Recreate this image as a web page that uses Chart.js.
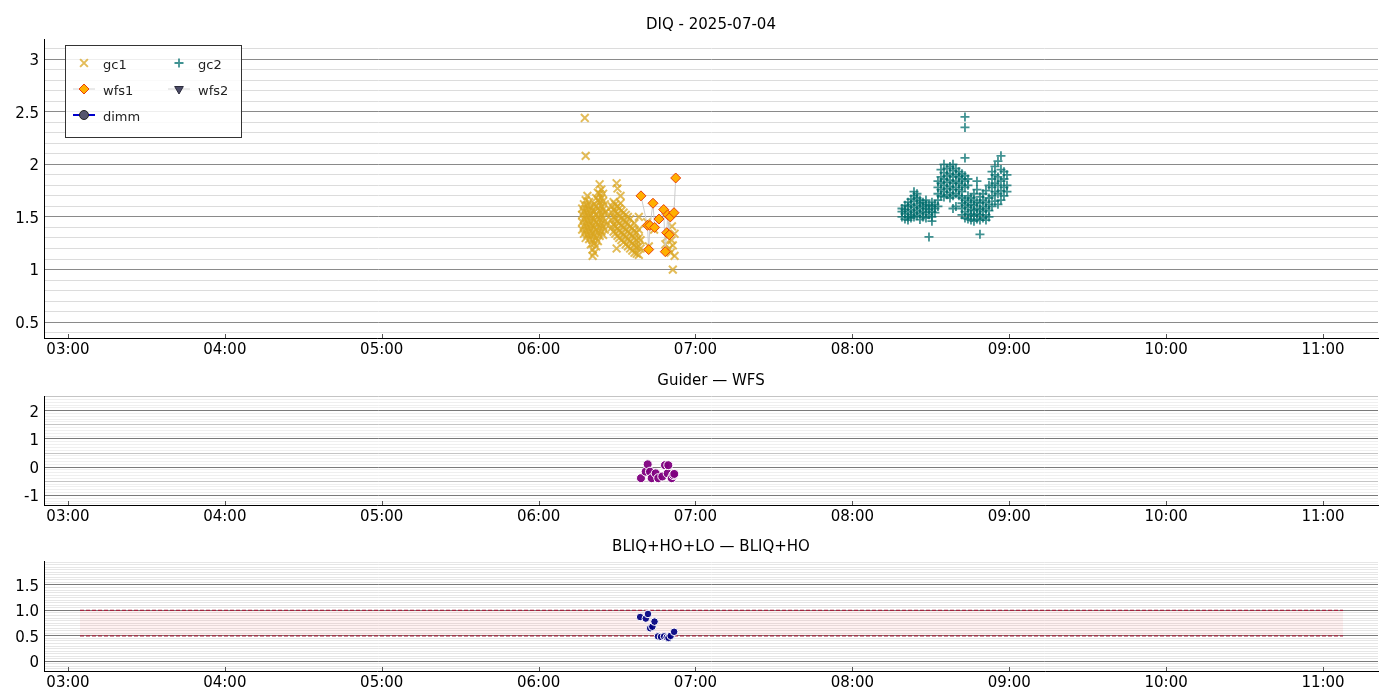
<!DOCTYPE html>
<html>
<head>
<meta charset="utf-8">
<script src="https://cdn.jsdelivr.net/npm/chart.js@4.4.1/dist/chart.umd.min.js"></script>
<style>
html, body { margin: 0; padding: 0; background: #fff; width: 1400px; height: 700px; overflow: hidden; }
.panel { position: absolute; left: 0; width: 1400px; }
</style>
</head>
<body>
<div class="panel" style="top:0;height:370px"><canvas id="diq"></canvas></div>
<div class="panel" style="top:365px;height:172px"><canvas id="gw"></canvas></div>
<div class="panel" style="top:533px;height:167px"><canvas id="bliq"></canvas></div>
<script>
// --- axes ---
const axisStart = '02:50:50';
const axisEnd = '11:21:02';
const hourTicks = [3, 4, 5, 6, 7, 8, 9, 10, 11];
const hourLabels = ['03:00', '04:00', '05:00', '06:00', '07:00', '08:00', '09:00', '10:00', '11:00'];

const diqTickValues = [0.5, 1, 1.5, 2, 2.5, 3];
const diqTickLabels = ['0.5', '1', '1.5', '2', '2.5', '3'];
const gwTickValues = [-1, 0, 1, 2];
const gwTickLabels = ['-1', '0', '1', '2'];
const bliqTickValues = [0, 0.5, 1, 1.5];
const bliqTickLabels = ['0', '0.5', '1.0', '1.5'];

// --- DIQ series, grouped by sample time: [time, [values]] ---
const gc1 = [
  ['06:16:40', [1.38, 1.45, 1.52, 1.58]],
  ['06:17:20', [1.34, 1.41, 1.48, 1.55, 1.62]],
  ['06:17:40', [2.44]],
  ['06:18:00', [2.08, 1.30, 1.37, 1.44, 1.51, 1.58, 1.66]],
  ['06:18:40', [1.33, 1.40, 1.47, 1.54, 1.61, 1.70]],
  ['06:19:20', [1.29, 1.36, 1.43, 1.50, 1.57, 1.64]],
  ['06:20:00', [1.24, 1.32, 1.39, 1.46, 1.53, 1.60]],
  ['06:20:40', [1.13, 1.19, 1.28, 1.35, 1.42, 1.49, 1.56]],
  ['06:21:20', [1.16, 1.25, 1.33, 1.40, 1.47, 1.55, 1.62]],
  ['06:22:00', [1.22, 1.30, 1.38, 1.45, 1.52, 1.60, 1.68]],
  ['06:22:40', [1.27, 1.35, 1.43, 1.50, 1.58, 1.66, 1.73]],
  ['06:23:20', [1.32, 1.40, 1.48, 1.56, 1.64, 1.72, 1.81]],
  ['06:24:00', [1.36, 1.44, 1.52, 1.60, 1.68, 1.76]],
  ['06:24:40', [1.33, 1.41, 1.49, 1.57, 1.65, 1.72]],
  ['06:25:20', [1.38, 1.46, 1.54, 1.62]],
  ['06:25:50', [1.43, 1.55]],
  ['06:28:00', [1.40, 1.47, 1.54, 1.60]],
  ['06:28:40', [1.36, 1.43, 1.50, 1.57, 1.64]],
  ['06:29:20', [1.34, 1.41, 1.48, 1.55, 1.62]],
  ['06:29:50', [1.82, 1.20]],
  ['06:30:10', [1.32, 1.39, 1.46, 1.53, 1.60, 1.77]],
  ['06:30:50', [1.30, 1.37, 1.44, 1.51, 1.58]],
  ['06:31:20', [1.70, 1.63]],
  ['06:31:40', [1.28, 1.35, 1.42, 1.49, 1.56]],
  ['06:32:30', [1.26, 1.33, 1.40, 1.47, 1.54]],
  ['06:33:20', [1.24, 1.31, 1.38, 1.45, 1.52]],
  ['06:34:10', [1.22, 1.29, 1.36, 1.43, 1.50]],
  ['06:35:00', [1.20, 1.27, 1.34, 1.41, 1.48]],
  ['06:35:50', [1.18, 1.25, 1.32, 1.39]],
  ['06:36:40', [1.16, 1.23, 1.30, 1.37, 1.44]],
  ['06:37:30', [1.15, 1.21, 1.28, 1.35]],
  ['06:38:20', [1.14, 1.22, 1.30, 1.38, 1.50]],
  ['06:39:00', [1.20, 1.28]],
  ['06:41:30', [1.45]],
  ['06:42:10', [1.22]],
  ['06:44:10', [1.38]],
  ['06:48:30', [1.24]],
  ['06:49:10', [1.31]],
  ['06:49:50', [1.20]],
  ['06:50:30', [1.16]],
  ['06:50:50', [1.28]],
  ['06:51:00', [1.41]],
  ['06:51:20', [1.00, 1.23]],
  ['06:52:00', [1.34, 1.13]]
];

const gc2 = [
  ['08:18:58', [1.50, 1.55, 1.58]],
  ['08:20:07', [1.48, 1.53, 1.57, 1.61]],
  ['08:21:16', [1.47, 1.50, 1.55, 1.60, 1.64]],
  ['08:22:25', [1.49, 1.52, 1.57, 1.62, 1.67]],
  ['08:23:34', [1.50, 1.54, 1.59, 1.65, 1.70, 1.74]],
  ['08:24:43', [1.51, 1.56, 1.61, 1.68, 1.72]],
  ['08:25:51', [1.475, 1.53, 1.58, 1.63, 1.66]],
  ['08:27:00', [1.50, 1.55, 1.60, 1.64]],
  ['08:28:09', [1.49, 1.54, 1.58, 1.62, 1.66]],
  ['08:29:18', [1.31, 1.52, 1.57, 1.61]],
  ['08:30:26', [1.46, 1.50, 1.55, 1.60, 1.64]],
  ['08:31:35', [1.54, 1.58, 1.62]],
  ['08:32:44', [1.60, 1.66, 1.72, 1.78, 1.84]],
  ['08:33:53', [1.70, 1.76, 1.82, 1.88, 1.95]],
  ['08:35:02', [1.69, 1.74, 1.80, 1.86, 1.92, 2.00]],
  ['08:36:11', [1.71, 1.77, 1.83, 1.89, 1.96]],
  ['08:37:20', [1.68, 1.73, 1.79, 1.85, 1.91, 1.98]],
  ['08:38:29', [1.58, 1.70, 1.76, 1.82, 1.88, 1.94, 2.00]],
  ['08:39:37', [1.60, 1.72, 1.78, 1.84, 1.90, 1.96]],
  ['08:40:46', [1.70, 1.76, 1.82, 1.88, 1.93]],
  ['08:41:55', [1.52, 1.58, 1.63, 1.68, 1.74, 1.80, 1.86, 1.91]],
  ['08:43:04', [1.49, 1.55, 1.61, 1.66, 1.78, 1.84, 1.89, 2.06, 2.35, 2.45]],
  ['08:44:13', [1.48, 1.53, 1.59, 1.64, 1.70, 1.80, 1.86]],
  ['08:45:22', [1.47, 1.52, 1.57, 1.62, 1.68]],
  ['08:46:30', [1.46, 1.51, 1.56, 1.61, 1.66, 1.72]],
  ['08:47:39', [1.48, 1.53, 1.58, 1.64, 1.76, 1.84]],
  ['08:48:48', [1.335, 1.47, 1.52, 1.57, 1.63, 1.69]],
  ['08:49:57', [1.49, 1.55, 1.60, 1.66, 1.72]],
  ['08:51:06', [1.47, 1.52, 1.58, 1.64, 1.75]],
  ['08:52:15', [1.50, 1.56, 1.62, 1.68, 1.80]],
  ['08:53:24', [1.60, 1.70, 1.78, 1.86, 1.93]],
  ['08:54:32', [1.65, 1.74, 1.82, 1.90, 1.98]],
  ['08:55:41', [1.62, 1.72, 1.80, 1.88, 2.03]],
  ['08:56:50', [1.66, 1.75, 1.84, 1.95, 2.08]],
  ['08:57:59', [1.70, 1.78, 1.86, 1.93]],
  ['08:59:08', [1.74, 1.80, 1.90]]
];

const wfs1 = [
  ['06:39:09', 1.70], ['06:41:38', 1.42], ['06:42:06', 1.19], ['06:42:36', 1.42], ['06:43:45', 1.63],
  ['06:44:23', 1.40], ['06:46:02', 1.48], ['06:47:50', 1.57], ['06:48:27', 1.17], ['06:48:59', 1.35],
  ['06:49:22', 1.52], ['06:49:59', 1.33], ['06:50:22', 1.50], ['06:51:47', 1.54], ['06:52:26', 1.87]
];
const wfs2 = [];
const dimm = [];

// --- Guider - WFS ---
const guiderWfs = [
  ['06:39:09', -0.39], ['06:40:57', -0.16], ['06:41:43', 0.10], ['06:42:36', -0.16], ['06:43:15', -0.39],
  ['06:44:47', -0.22], ['06:45:46', -0.39], ['06:47:18', -0.33], ['06:48:20', 0.07], ['06:49:22', -0.22],
  ['06:49:36', 0.07], ['06:50:54', -0.39], ['06:51:30', -0.28], ['06:51:53', -0.24]
];

// --- BLIQ+HO+LO - BLIQ+HO ---
const bliqDiff = [
  ['06:38:50', 0.87], ['06:41:00', 0.84], ['06:41:50', 0.93], ['06:42:40', 0.65], ['06:43:30', 0.68],
  ['06:44:20', 0.78], ['06:45:40', 0.49], ['06:46:50', 0.48], ['06:48:00', 0.49], ['06:49:00', 0.47],
  ['06:49:40', 0.46], ['06:50:30', 0.50], ['06:51:50', 0.58]
];
const bandStart = '03:04:36';
const bandEnd = '11:07:40';
const bandLow = 0.5;
const bandHigh = 1.0;

// --- helpers ---
function toHours(s) {
  const [h, m, sec] = s.split(':').map(Number);
  return h + m / 60 + (sec || 0) / 3600;
}
const pts = arr => arr.map(([t, v]) => ({ x: toHours(t), y: v }));
const colPts = arr => arr.flatMap(([t, vals]) => vals.map(v => ({ x: toHours(t), y: v })));

Chart.defaults.font.family = "'DejaVu Sans', sans-serif";
Chart.defaults.color = '#000';
Chart.defaults.animation = false;

const sameVal = (a, b) => Math.abs(a - b) < 1e-6;
const isMultiple = (v, step) => Math.abs(v / step - Math.round(v / step)) < 1e-6;

function timeAxis(height) {
  return {
    type: 'linear',
    min: toHours(axisStart),
    max: toHours(axisEnd),
    afterBuildTicks: s => { s.ticks = hourTicks.map(v => ({ value: v })); },
    afterFit: s => { s.height = height; },
    grid: { display: false, drawTicks: false },
    border: { display: true, color: '#000', width: 1 },
    ticks: {
      autoSkip: false, maxRotation: 0, padding: 3, font: { size: 15 },
      callback: (v, i) => hourLabels[i]
    }
  };
}

function valueAxis(min, max, step, tickValues, tickLabels, midStep, colors) {
  const labelFor = v => {
    const i = tickValues.findIndex(t => sameVal(t, v));
    return i < 0 ? '' : tickLabels[i];
  };
  return {
    type: 'linear',
    min, max,
    afterBuildTicks: s => {
      const t = [];
      for (let k = Math.ceil(min / step - 1e-9); k * step <= max + 1e-9; k++) {
        t.push({ value: +(k * step).toFixed(4) });
      }
      s.ticks = t;
    },
    afterFit: s => { s.width = 44; },
    grid: {
      drawTicks: false,
      lineWidth: 1,
      color: c => {
        const v = c.tick ? c.tick.value : 0;
        if (labelFor(v) !== '') return colors[0];
        if (midStep && isMultiple(v, midStep)) return colors[1];
        return colors[2];
      }
    },
    border: { display: true, color: '#000', width: 1 },
    ticks: { autoSkip: false, padding: 5, labelOffset: 2, font: { size: 15 }, callback: v => labelFor(v) }
  };
}

// small inward tick marks on the time axis
const innerTicks = {
  id: 'innerTicks',
  afterDraw(chart) {
    const { ctx, scales: { x }, chartArea: a } = chart;
    ctx.save();
    ctx.strokeStyle = '#555';
    ctx.lineWidth = 1;
    x.ticks.forEach(t => {
      const px = Math.round(x.getPixelForValue(t.value)) + 0.5;
      ctx.beginPath();
      ctx.moveTo(px, a.bottom);
      ctx.lineTo(px, a.bottom - 4);
      ctx.stroke();
    });
    ctx.restore();
  }
};

// title centred over the plot area rather than the whole canvas
const plotTitle = {
  id: 'plotTitle',
  afterDraw(chart, args, opts) {
    const { ctx, chartArea: a } = chart;
    ctx.save();
    ctx.fillStyle = '#000';
    ctx.font = "15px 'DejaVu Sans'";
    ctx.textAlign = 'center';
    ctx.textBaseline = 'middle';
    ctx.fillText(opts.text, (a.left + a.right) / 2, a.top - opts.gap);
    ctx.restore();
  }
};

// two-column framed legend inside the DIQ plot
const boxLegend = {
  id: 'boxLegend',
  afterDraw(chart) {
    const { ctx, chartArea: a } = chart;
    const x0 = a.left + 21, y0 = a.top + 6, w = 176, h = 92;
    ctx.save();
    ctx.fillStyle = 'rgba(255,255,255,0.85)';
    ctx.fillRect(x0, y0, w, h);
    ctx.strokeStyle = '#333';
    ctx.lineWidth = 1;
    ctx.strokeRect(x0 + 0.5, y0 + 0.5, w, h);
    const cols = [x0 + 19, x0 + 114];
    const rows = [y0 + 18, y0 + 44, y0 + 70];
    chart.data.datasets
      .filter(d => d.legendSlot !== undefined)
      .forEach(d => {
        const mx = cols[d.legendSlot % 2], my = rows[Math.floor(d.legendSlot / 2)];
        if (d.legendLine) {
          ctx.strokeStyle = d.legendLine;
          ctx.lineWidth = d.legendLineWidth || 1;
          ctx.beginPath();
          ctx.moveTo(mx - 11, my);
          ctx.lineTo(mx + 11, my);
          ctx.stroke();
        }
        ctx.fillStyle = d.pointBackgroundColor || 'rgba(0,0,0,0)';
        ctx.strokeStyle = d.pointBorderColor;
        ctx.lineWidth = d.pointBorderWidth;
        Chart.helpers.drawPoint(ctx, {
          pointStyle: d.pointStyle, rotation: d.pointRotation || 0,
          radius: d.pointRadius, borderWidth: d.pointBorderWidth
        }, mx, my);
        ctx.fillStyle = '#222';
        ctx.font = "13px 'DejaVu Sans'";
        ctx.textBaseline = 'middle';
        ctx.fillText(d.label, mx + 19, my + 3);
      });
    ctx.restore();
  }
};

const basePlugins = { legend: { display: false }, tooltip: { enabled: false }, title: { display: false } };

// --- DIQ chart ---
new Chart(document.getElementById('diq'), {
  type: 'scatter',
  data: {
    datasets: [
      {
        label: 'wfs1', data: pts(wfs1), showLine: true, borderColor: '#cccccc', borderWidth: 1,
        pointStyle: 'rectRot', pointRadius: 5, pointBackgroundColor: '#ffb000',
        pointBorderColor: '#e8400c', pointBorderWidth: 1, legendSlot: 2, legendLine: '#d4d4d4'
      },
      {
        label: 'wfs2', data: pts(wfs2), showLine: true, borderColor: '#cccccc', borderWidth: 1,
        pointStyle: 'triangle', pointRotation: 180, pointRadius: 5, pointBackgroundColor: '#4a4a66',
        pointBorderColor: '#2a2a3a', pointBorderWidth: 1, legendSlot: 3, legendLine: '#d4d4d4'
      },
      {
        label: 'dimm', data: pts(dimm), showLine: true, borderColor: '#0000cc', borderWidth: 2,
        pointStyle: 'circle', pointRadius: 4.5, pointBackgroundColor: '#55556e',
        pointBorderColor: '#222', pointBorderWidth: 1, legendSlot: 4, legendLine: '#0000cc', legendLineWidth: 2
      },
      {
        label: 'gc1', data: colPts(gc1), pointStyle: 'crossRot', pointRadius: 5.5,
        pointBorderColor: 'rgba(218,165,32,0.75)', pointBorderWidth: 2, legendSlot: 0
      },
      {
        label: 'gc2', data: colPts(gc2), pointStyle: 'cross', pointRadius: 4.5,
        pointBorderColor: 'rgba(0,110,110,0.75)', pointBorderWidth: 1.8, legendSlot: 1
      }
    ]
  },
  options: {
    responsive: true, maintainAspectRatio: false,
    layout: { padding: { left: 0, right: 22, top: 39, bottom: 0 } },
    plugins: { ...basePlugins, plotTitle: { text: 'DIQ - 2025-07-04', gap: 14 } },
    scales: {
      x: timeAxis(32),
      y: valueAxis(0.35, 3.19, 0.1, diqTickValues, diqTickLabels, null, ['#8a8a8a', '#dcdcdc', '#dcdcdc'])
    }
  },
  plugins: [innerTicks, boxLegend, plotTitle]
});

// --- Guider - WFS chart ---
new Chart(document.getElementById('gw'), {
  type: 'scatter',
  data: {
    datasets: [{
      label: 'Guider — WFS', data: pts(guiderWfs), pointStyle: 'circle', pointRadius: 4.5,
      pointBackgroundColor: 'rgba(128,0,128,0.95)', pointBorderColor: '#ffffff', pointBorderWidth: 1
    }]
  },
  options: {
    responsive: true, maintainAspectRatio: false,
    layout: { padding: { left: 0, right: 22, top: 31, bottom: 0 } },
    plugins: { ...basePlugins, plotTitle: { text: 'Guider — WFS', gap: 15 } },
    scales: {
      x: timeAxis(32),
      y: valueAxis(-1.34, 2.52, 0.1, gwTickValues, gwTickLabels, 0.5, ['#7a7a7a', '#c4c4c4', '#efefef'])
    }
  },
  plugins: [innerTicks, plotTitle]
});

// --- BLIQ chart ---
new Chart(document.getElementById('bliq'), {
  type: 'scatter',
  data: {
    datasets: [
      {
        label: 'BLIQ+HO+LO — BLIQ+HO', data: pts(bliqDiff), pointStyle: 'circle', pointRadius: 3.8,
        pointBackgroundColor: 'rgba(0,0,128,0.92)', pointBorderColor: '#ffffff', pointBorderWidth: 1
      },
      {
        label: 'high', type: 'line',
        data: [{ x: toHours(bandStart), y: bandHigh }, { x: toHours(bandEnd), y: bandHigh }],
        borderColor: '#a3243f', borderWidth: 1.2, borderDash: [4, 2], pointRadius: 0,
        fill: '+1', backgroundColor: 'rgba(255,60,60,0.07)'
      },
      {
        label: 'low', type: 'line',
        data: [{ x: toHours(bandStart), y: bandLow }, { x: toHours(bandEnd), y: bandLow }],
        borderColor: '#a3243f', borderWidth: 1.2, borderDash: [4, 2], pointRadius: 0, fill: false
      }
    ]
  },
  options: {
    responsive: true, maintainAspectRatio: false,
    layout: { padding: { left: 0, right: 22, top: 28, bottom: 0 } },
    plugins: { ...basePlugins, plotTitle: { text: 'BLIQ+HO+LO — BLIQ+HO', gap: 14 } },
    scales: {
      x: timeAxis(29),
      y: valueAxis(-0.19, 1.97, 0.05, bliqTickValues, bliqTickLabels, null, ['#7a7a7a', '#e6e6e6', '#e6e6e6'])
    }
  },
  plugins: [innerTicks, plotTitle]
});
</script>
</body>
</html>
